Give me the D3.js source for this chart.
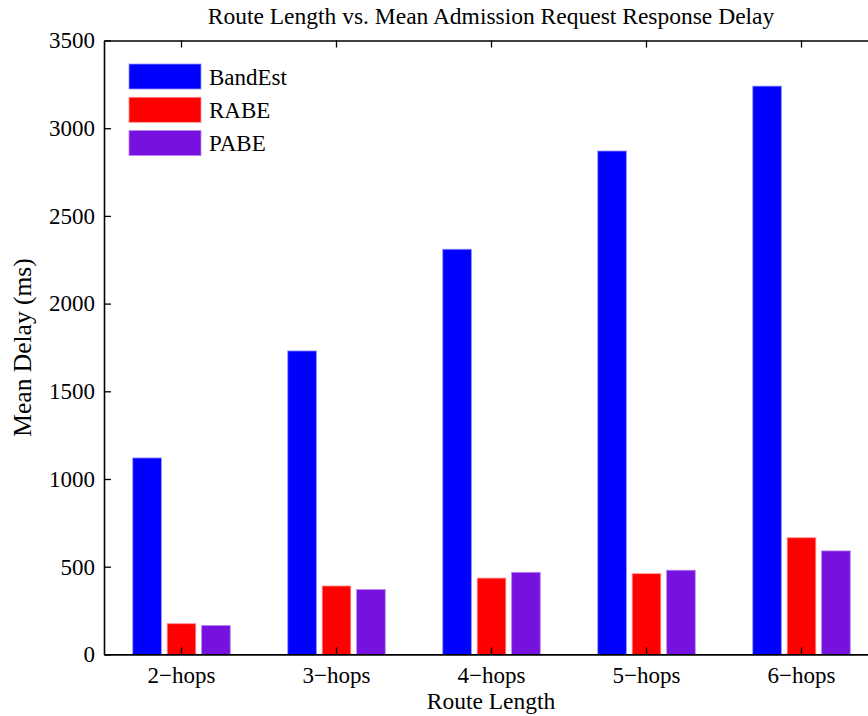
<!DOCTYPE html>
<html>
<head>
<meta charset="utf-8">
<script src="https://cdn.jsdelivr.net/npm/d3@7"></script>
<style>
  body { margin: 0; background: #fff; }
  svg { display: block; font-family: "Liberation Serif", "DejaVu Serif", serif; }
</style>
</head>
<body>
<svg id="chart" width="868" height="716"></svg>
<script>
// data
const categories = ["2\u2212hops", "3\u2212hops", "4\u2212hops", "5\u2212hops", "6\u2212hops"];
const seriesNames = ["BandEst", "RABE", "PABE"];
const bandEst = [1120, 1730, 2310, 2870, 3240];
const rabe = [175, 390, 435, 460, 665];
const pabe = [165, 370, 468, 480, 590];
const yTicks = [0, 500, 1000, 1500, 2000, 2500, 3000, 3500];
const colors = ["#0000ff", "#ff0000", "#7711e0"];
const edge = ["#8f8fff", "#ff9090", "#b886ef"];

const values = [bandEst, rabe, pabe];

// plot box
const plotLeft = 104, plotRight = 879, plotTop = 40.5, plotBottom = 654.4;

const svg = d3.select("#chart");

const x0 = d3.scaleBand().domain(categories).range([plotLeft, plotRight]).padding(0);
const x1 = d3.scaleBand().domain(seriesNames)
  .range([-x0.bandwidth() / 3, x0.bandwidth() / 3])
  .paddingInner(0.17).paddingOuter(0.085);
const y = d3.scaleLinear().domain([0, 3500]).range([plotBottom, plotTop]);

// bars
seriesNames.forEach((s, si) => {
  svg.append("g")
    .selectAll("rect")
    .data(categories)
    .join("rect")
    .attr("x", c => x0(c) + x0.bandwidth() / 2 + x1(s))
    .attr("y", (c, i) => y(values[si][i]))
    .attr("width", x1.bandwidth())
    .attr("height", (c, i) => y(0) - y(values[si][i]))
    .attr("fill", colors[si])
    .attr("stroke", edge[si])
    .attr("stroke-width", 0.8);
});

// axes, ticks pointing inward
const tickFont = "23px";

const yAxis = d3.axisLeft(y).tickValues(yTicks).tickFormat(d3.format("d"))
  .tickSizeInner(-7).tickSizeOuter(0).tickPadding(9);
const gy = svg.append("g").attr("transform", `translate(${plotLeft},0)`).call(yAxis);

const xAxis = d3.axisBottom(x0).tickSizeInner(-7).tickSizeOuter(0).tickPadding(12);
const gx = svg.append("g").attr("transform", `translate(0,${plotBottom})`).call(xAxis);

const topAxis = d3.axisTop(x0).tickSizeInner(-7).tickSizeOuter(0).tickFormat("");
const gt = svg.append("g").attr("transform", `translate(0,${plotTop})`).call(topAxis);

const rightAxis = d3.axisRight(y).tickValues(yTicks).tickSizeInner(-7).tickSizeOuter(0).tickFormat("");
const gr = svg.append("g").attr("transform", `translate(${plotRight},0)`).call(rightAxis);

[gy, gx, gt, gr].forEach(g => {
  g.attr("font-family", '"Liberation Serif", serif');
  g.select(".domain").attr("stroke", "#000").attr("stroke-width", 1.6);
  g.selectAll(".tick line").attr("stroke", "#000").attr("stroke-width", 1.3);
  g.selectAll(".tick text")
    .attr("fill", "#000")
    .style("font-size", tickFont)
    .style("font-family", '"Liberation Serif", serif');
});

// title and axis labels
svg.append("text")
  .attr("x", 491).attr("y", 24)
  .attr("text-anchor", "middle")
  .style("font-size", "23.5px")
  .text("Route Length vs. Mean Admission Request Response Delay");

svg.append("text")
  .attr("x", 491).attr("y", 709)
  .attr("text-anchor", "middle")
  .style("font-size", "23.5px")
  .text("Route Length");

svg.append("text")
  .attr("transform", `translate(31,${(plotTop + plotBottom) / 2}) rotate(-90)`)
  .attr("text-anchor", "middle")
  .style("font-size", "25.5px")
  .text("Mean Delay (ms)");

// legend
const legend = svg.append("g").attr("transform", "translate(129,64)");
seriesNames.forEach((s, i) => {
  const row = legend.append("g").attr("transform", `translate(0,${i * 33.3})`);
  row.append("rect")
    .attr("width", 72).attr("height", 25)
    .attr("fill", colors[i])
    .attr("stroke", edge[i]).attr("stroke-width", 0.8);
  row.append("text")
    .attr("x", 80).attr("y", 20.5)
    .style("font-size", "23px")
    .text(s);
});
</script>
</body>
</html>
